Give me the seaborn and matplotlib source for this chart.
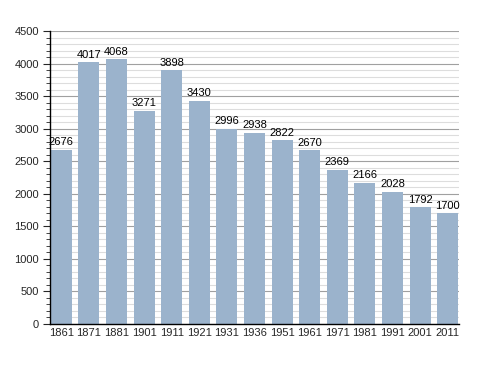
import matplotlib
matplotlib.use("Agg")
import matplotlib.pyplot as plt
import seaborn as sns
import pandas as pd
from matplotlib.ticker import MultipleLocator

years = ["1861", "1871", "1881", "1901", "1911", "1921", "1931", "1936", "1951",
         "1961", "1971", "1981", "1991", "2001", "2011"]
population = [2676, 4017, 4068, 3271, 3898, 3430, 2996, 2938, 2822, 2670,
              2369, 2166, 2028, 1792, 1700]

df = pd.DataFrame({"year": years, "pop": population})

sns.set_style("white")
plt.rcParams["font.family"] = ["Liberation Sans", "DejaVu Sans"]

fig = plt.figure(figsize=(4.88, 3.73), dpi=100)
ax = fig.add_axes([50/488, 1-324/373, 409/488, 293/373])

ax.yaxis.set_major_locator(MultipleLocator(500))
ax.yaxis.set_minor_locator(MultipleLocator(100))
ax.grid(which="major", axis="y", color="#a0a0a0", linewidth=0.8)
ax.grid(which="minor", axis="y", color="#dddddd", linewidth=0.8)
ax.set_axisbelow(True)

bw = 0.76
sns.barplot(data=df, x="year", y="pop", color="#9bb3cc", saturation=1,
            width=bw, linewidth=0, edgecolor="none", ax=ax)

for i, v in enumerate(population):
    ax.text(i, v + 40, str(v), ha="center", va="bottom", fontsize=8, color="black")

ax.set_ylim(0, 4500)
ax.set_xlim(-bw/2 - 0.03, len(years) - 1 + bw/2 + 0.03)
ax.set_xlabel("")
ax.set_ylabel("")
for s in ["top", "right"]:
    ax.spines[s].set_visible(False)
ax.spines["left"].set_color("black")
ax.spines["bottom"].set_color("black")
ax.spines["left"].set_linewidth(1)
ax.spines["bottom"].set_linewidth(1)
ax.tick_params(axis="y", which="major", length=5, width=0.8, direction="out", left=True, labelsize=8, pad=3)
ax.tick_params(axis="y", which="minor", length=3, width=0.6, direction="out", left=True)
ax.tick_params(axis="x", length=0, labelsize=8, pad=3)

fig.savefig("out.png", dpi=100)
